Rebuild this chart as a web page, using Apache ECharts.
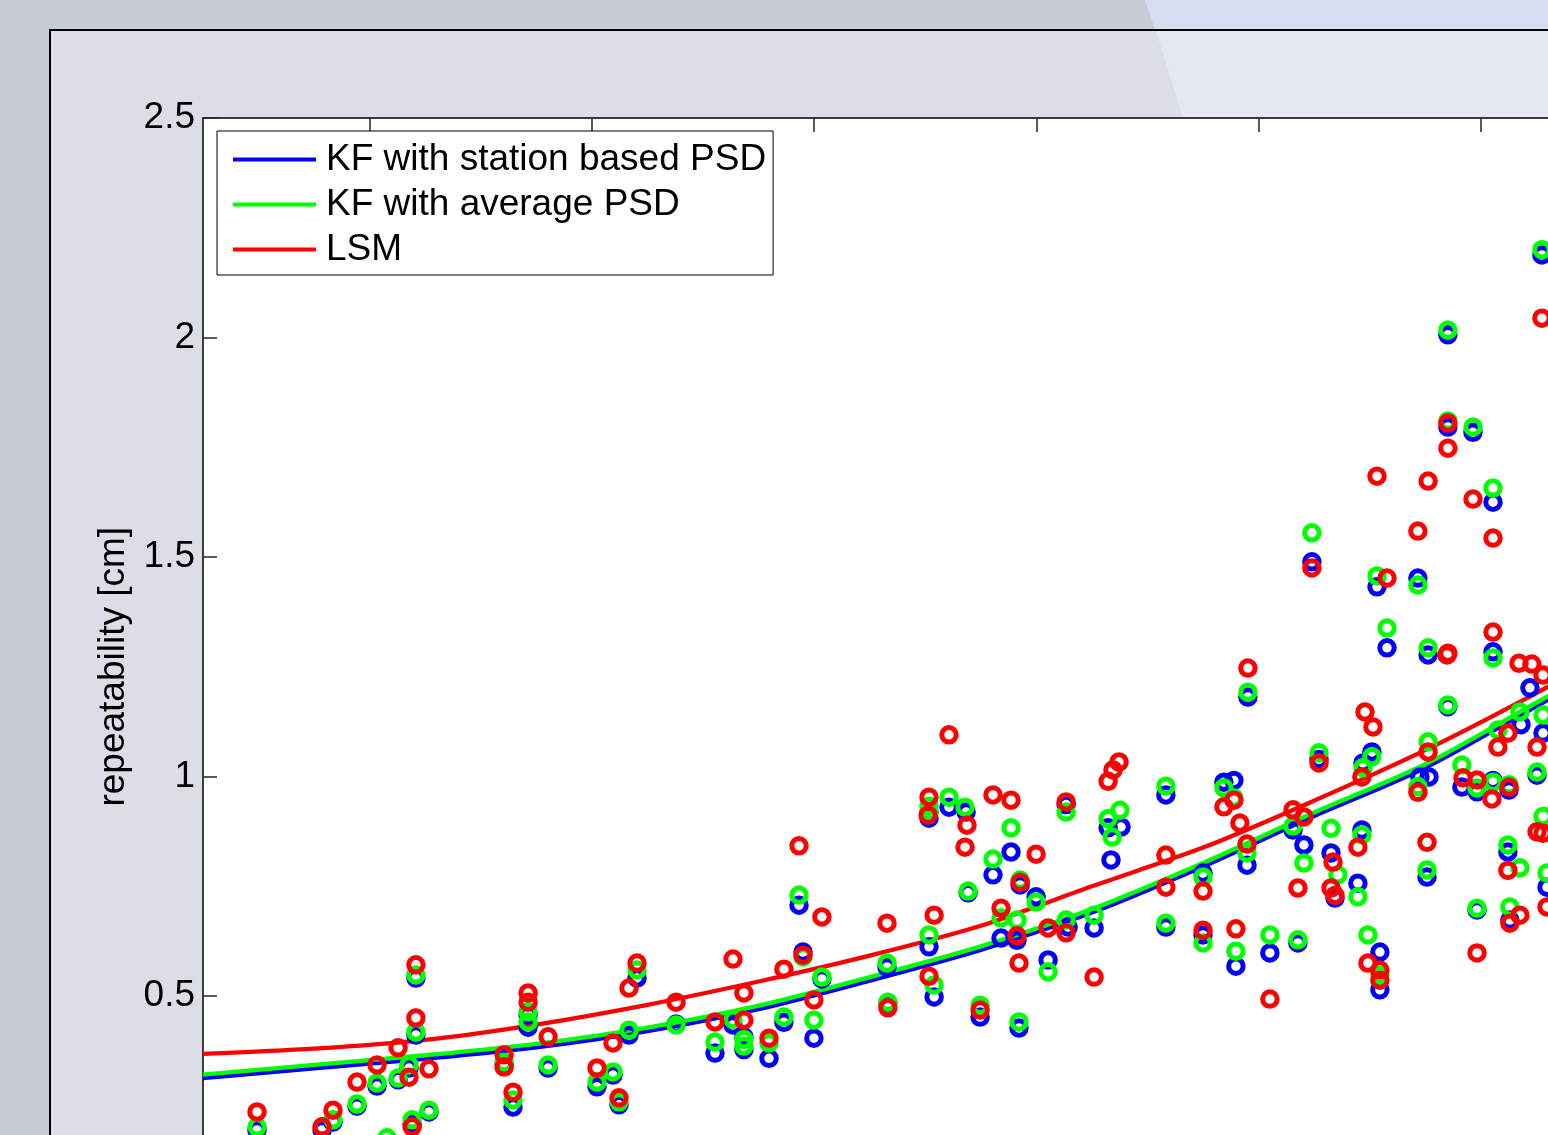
<!DOCTYPE html>
<html>
<head>
<meta charset="utf-8">
<script src="https://cdn.jsdelivr.net/npm/echarts@6/dist/echarts.min.js"></script>
<style>
html,body{margin:0;padding:0;background:#c7ccd6;}
#chart{width:1548px;height:1135px;}
</style>
</head>
<body>
<div id="chart"></div>
<script>
// ---- data ----
const seriesNames = ['KF with station based PSD', 'KF with average PSD', 'LSM'];
const yTicks = [0, 0.5, 1, 1.5, 2, 2.5];
const xTicks = [1, 2, 3, 4, 5, 6];

// fitted curves
const curveX = [0.25,0.75,1.25,1.75,2.25,2.75,3.25,3.75,4.25,4.75,5.25,5.75,6.25,6.75,7];
const kfStationFit = [0.313,0.335,0.357,0.383,0.42,0.47,0.535,0.605,0.69,0.795,0.91,1.02,1.16,1.30,1.37];
const kfAverageFit = [0.321,0.343,0.365,0.391,0.428,0.478,0.543,0.613,0.698,0.803,0.918,1.028,1.168,1.308,1.378];
const lsmFit = [0.368,0.38,0.40,0.435,0.48,0.533,0.592,0.66,0.75,0.838,0.945,1.06,1.19,1.33,1.40];

// per-station repeatabilities [x, value]
const kfStationPts = [[0.493,0.195],[0.786,0.195],[0.835,0.213],[0.943,0.249],[1.033,0.295],[1.128,0.309],[1.208,0.541],[1.208,0.411],[1.177,0.336],[1.191,0.208],[1.267,0.236],[1.605,0.345],[1.645,0.247],[1.713,0.457],[1.713,0.429],[1.803,0.336],[2.023,0.293],[2.095,0.320],[2.122,0.252],[2.167,0.411],[2.203,0.541],[2.379,0.436],[2.554,0.370],[2.635,0.434],[2.684,0.407],[2.684,0.378],[2.797,0.358],[2.864,0.440],[2.932,0.707],[2.950,0.600],[2.999,0.404],[3.035,0.539],[3.328,0.566],[3.332,0.484],[3.517,0.905],[3.517,0.919],[3.607,0.930],[3.684,0.919],[3.886,0.828],[3.805,0.776],[3.693,0.735],[3.927,0.753],[3.999,0.726],[3.841,0.632],[3.913,0.627],[3.517,0.612],[4.053,0.582],[3.540,0.498],[3.747,0.452],[3.922,0.427],[4.134,0.936],[4.143,0.657],[4.260,0.655],[4.323,0.883],[4.381,0.885],[4.336,0.810],[4.583,0.958],[4.583,0.657],[4.844,0.987],[4.889,0.991],[4.952,1.181],[4.948,0.798],[4.750,0.780],[4.750,0.639],[4.898,0.568],[5.051,0.598],[5.177,0.621],[5.155,0.878],[5.204,0.844],[5.326,0.826],[5.240,1.489],[5.272,1.039],[5.344,0.723],[5.447,0.757],[5.465,0.878],[5.470,1.031],[5.510,1.056],[5.533,1.432],[5.546,0.514],[5.546,0.600],[5.578,1.293],[5.717,1.452],[5.726,0.999],[5.767,0.999],[5.758,0.771],[5.763,1.277],[5.852,2.006],[5.852,1.796],[5.852,1.159],[5.915,0.976],[5.965,1.784],[5.983,0.965],[5.983,0.696],[6.055,1.625],[6.055,1.284],[6.055,0.991],[6.127,0.969],[6.122,0.828],[6.131,0.673],[6.181,1.118],[6.221,1.202],[6.253,1.003],[6.280,1.099],[6.275,2.188],[6.298,0.748]];

const kfAveragePts = [[0.493,0.202],[0.786,0.202],[0.835,0.218],[0.943,0.254],[1.033,0.302],[1.128,0.313],[1.208,0.548],[1.208,0.418],[1.177,0.343],[1.191,0.218],[1.267,0.240],[1.078,0.177],[1.605,0.349],[1.645,0.263],[1.713,0.464],[1.713,0.441],[1.803,0.343],[2.023,0.304],[2.095,0.327],[2.122,0.259],[2.167,0.422],[2.203,0.559],[2.379,0.434],[2.554,0.395],[2.635,0.447],[2.684,0.401],[2.684,0.386],[2.797,0.393],[2.864,0.452],[2.932,0.730],[2.950,0.589],[2.999,0.445],[3.035,0.543],[3.328,0.575],[3.332,0.486],[3.517,0.919],[3.517,0.932],[3.607,0.953],[3.679,0.930],[3.886,0.883],[3.805,0.812],[3.693,0.739],[3.927,0.764],[3.999,0.714],[3.841,0.678],[3.913,0.673],[3.517,0.639],[4.053,0.555],[3.540,0.525],[3.747,0.479],[3.922,0.441],[4.134,0.919],[4.134,0.673],[4.260,0.684],[4.323,0.904],[4.376,0.923],[4.341,0.862],[4.583,0.978],[4.583,0.666],[4.844,0.974],[4.889,0.951],[4.952,1.192],[4.948,0.826],[4.750,0.771],[4.750,0.621],[4.898,0.602],[5.051,0.639],[5.177,0.628],[5.155,0.887],[5.204,0.803],[5.326,0.882],[5.240,1.555],[5.272,1.054],[5.357,0.776],[5.447,0.726],[5.465,0.867],[5.470,1.020],[5.510,1.045],[5.533,1.457],[5.492,0.639],[5.546,0.547],[5.578,1.338],[5.717,1.436],[5.717,0.977],[5.763,1.079],[5.758,0.787],[5.763,1.293],[5.852,2.017],[5.852,1.810],[5.852,1.163],[5.915,1.026],[5.965,1.796],[5.983,0.974],[5.983,0.700],[6.055,1.657],[6.055,1.270],[6.055,0.987],[6.127,0.981],[6.122,0.844],[6.131,0.703],[6.176,1.147],[6.176,0.792],[6.077,1.106],[6.253,1.010],[6.280,1.140],[6.275,2.200],[6.298,0.780],[6.280,0.909]];

const lsmPts = [[0.493,0.236],[0.786,0.202],[0.835,0.240],[0.943,0.304],[1.033,0.343],[1.128,0.382],[1.208,0.571],[1.208,0.450],[1.177,0.315],[1.191,0.202],[1.267,0.334],[1.605,0.366],[1.605,0.338],[1.645,0.281],[1.713,0.507],[1.713,0.486],[1.803,0.407],[2.023,0.336],[2.095,0.393],[2.122,0.268],[2.167,0.518],[2.203,0.575],[2.379,0.486],[2.554,0.441],[2.635,0.584],[2.684,0.507],[2.684,0.445],[2.797,0.404],[2.864,0.561],[2.932,0.842],[2.950,0.593],[2.999,0.491],[3.035,0.680],[3.328,0.666],[3.332,0.473],[3.607,1.095],[3.517,0.953],[3.513,0.912],[3.688,0.889],[3.679,0.839],[3.805,0.958],[3.886,0.946],[3.999,0.823],[3.927,0.759],[3.841,0.700],[3.913,0.637],[3.540,0.684],[4.053,0.655],[4.134,0.644],[3.922,0.575],[4.260,0.543],[3.517,0.545],[3.747,0.468],[4.134,0.942],[4.323,0.989],[4.345,1.015],[4.372,1.033],[4.583,0.821],[4.583,0.748],[4.952,1.247],[4.844,0.931],[4.889,0.946],[5.272,1.031],[4.916,0.894],[4.948,0.846],[4.750,0.739],[5.155,0.924],[5.204,0.908],[5.177,0.746],[5.335,0.805],[5.326,0.746],[5.344,0.729],[4.750,0.650],[4.898,0.653],[5.051,0.493],[5.240,1.475],[5.479,1.147],[5.515,1.113],[5.465,0.999],[5.763,1.056],[5.717,0.964],[5.920,0.997],[5.983,0.992],[6.050,0.949],[6.127,0.976],[6.122,1.099],[6.077,1.067],[6.172,1.258],[6.230,1.256],[6.280,1.231],[5.848,1.277],[6.055,1.329],[6.253,1.067],[5.447,0.839],[5.758,0.850],[6.122,0.786],[6.253,0.874],[6.280,0.871],[6.298,0.703],[6.131,0.666],[6.176,0.684],[5.492,0.575],[5.546,0.559],[5.546,0.536],[5.983,0.598],[6.275,2.044],[5.852,1.805],[5.852,1.748],[5.533,1.684],[5.763,1.673],[5.965,1.632],[5.717,1.559],[6.055,1.543],[5.578,1.452],[5.852,1.281]];

// ---- styling ----
const colors = ['#0000ff', '#00ff00', '#ff0000'];
const FONT = '"Liberation Sans", Arial, Helvetica, sans-serif';

function zip(xs, ys) { return xs.map((x, i) => [x, ys[i]]); }

const chart = echarts.init(document.getElementById('chart'), null, {renderer: 'canvas'});

const lineSeries = [kfStationFit, kfAverageFit, lsmFit].map((ys, i) => ({
  name: seriesNames[i],
  type: 'line',
  data: zip(curveX, ys),
  smooth: 0.3,
  symbol: 'none',
  lineStyle: {color: colors[i], width: 4.3},
  itemStyle: {color: colors[i]},
  z: 2,
  silent: true
}));

const scatterSeries = [kfStationPts, kfAveragePts, lsmPts].map((pts, i) => ({
  name: seriesNames[i] + ' stations',
  type: 'scatter',
  data: pts,
  symbol: 'circle',
  symbolSize: 14.5,
  itemStyle: {color: 'rgba(0,0,0,0)', borderColor: colors[i], borderWidth: 5, opacity: 1},
  z: 3 + i,
  silent: true
}));

const axisLineStyle = {color: '#000', width: 1.5};
const tickStyle = {color: '#262626', width: 1.5};

chart.setOption({
  animation: false,
  backgroundColor: '#c7ccd6',
  graphic: [
    {type: 'polygon', z: -10, shape: {points: [[1145,0],[1548,0],[1548,30],[1155,30]]}, style: {fill: '#d5deef'}},
    {type: 'rect', z: -10, shape: {x: 50, y: 30, width: 1600, height: 1200}, style: {fill: '#dbdee6', stroke: '#000', lineWidth: 2}},
    {type: 'polygon', z: -10, shape: {points: [[1156,31],[1548,31],[1548,118],[1183,118]]}, style: {fill: '#e3e8f3'}},
    {type: 'rect', z: -10, shape: {x: 203, y: 118, width: 1500, height: 1100}, style: {fill: '#ffffff'}}
  ],
  grid: {left: 203, top: 118, width: 1500, height: 1097.5, containLabel: false, outerBoundsMode: 'none'},
  legend: {
    data: seriesNames,
    orient: 'vertical',
    left: 217,
    top: 131,
    backgroundColor: '#ffffff',
    borderColor: '#000',
    borderWidth: 1,
    borderRadius: 0,
    padding: [6, 7, 3, 16],
    itemGap: 0,
    itemWidth: 83,
    itemHeight: 45,
    icon: 'path://M0,20.5L83,20.5L83,24.5L0,24.5Z',
    selectedMode: false,
    textStyle: {fontSize: 37, color: '#000', fontFamily: FONT, lineHeight: 45, padding: [0, 0, 0, 5]}
  },
  xAxis: [
    {type: 'value', position: 'bottom', min: 0.25, max: 7,
      axisLine: {show: true, onZero: false, lineStyle: axisLineStyle},
      axisTick: {show: true, inside: true, length: 14, lineStyle: tickStyle, customValues: xTicks},
      axisLabel: {show: false}, splitLine: {show: false}},
    {type: 'value', position: 'top', min: 0.25, max: 7,
      axisLine: {show: true, onZero: false, lineStyle: axisLineStyle},
      axisTick: {show: true, inside: true, length: 14, lineStyle: tickStyle, customValues: xTicks},
      axisLabel: {show: false}, splitLine: {show: false}}
  ],
  yAxis: [
    {type: 'value', position: 'left', min: 0, max: 2.5, interval: 0.5,
      name: 'repeatability [cm]', nameLocation: 'middle', nameRotate: 90, nameGap: 70,
      nameTextStyle: {fontSize: 37, color: '#000', fontFamily: FONT},
      axisLine: {show: true, onZero: false, lineStyle: axisLineStyle},
      axisTick: {show: true, inside: true, length: 14, lineStyle: tickStyle},
      axisLabel: {show: true, fontSize: 37, color: '#000', fontFamily: FONT, margin: 8,
        customValues: yTicks},
      splitLine: {show: false}},
    {type: 'value', position: 'right', min: 0, max: 2.5, interval: 0.5,
      axisLine: {show: true, onZero: false, lineStyle: axisLineStyle},
      axisTick: {show: true, inside: true, length: 14, lineStyle: tickStyle},
      axisLabel: {show: false}, splitLine: {show: false}}
  ],
  series: lineSeries.concat(scatterSeries)
});
</script>
</body>
</html>
